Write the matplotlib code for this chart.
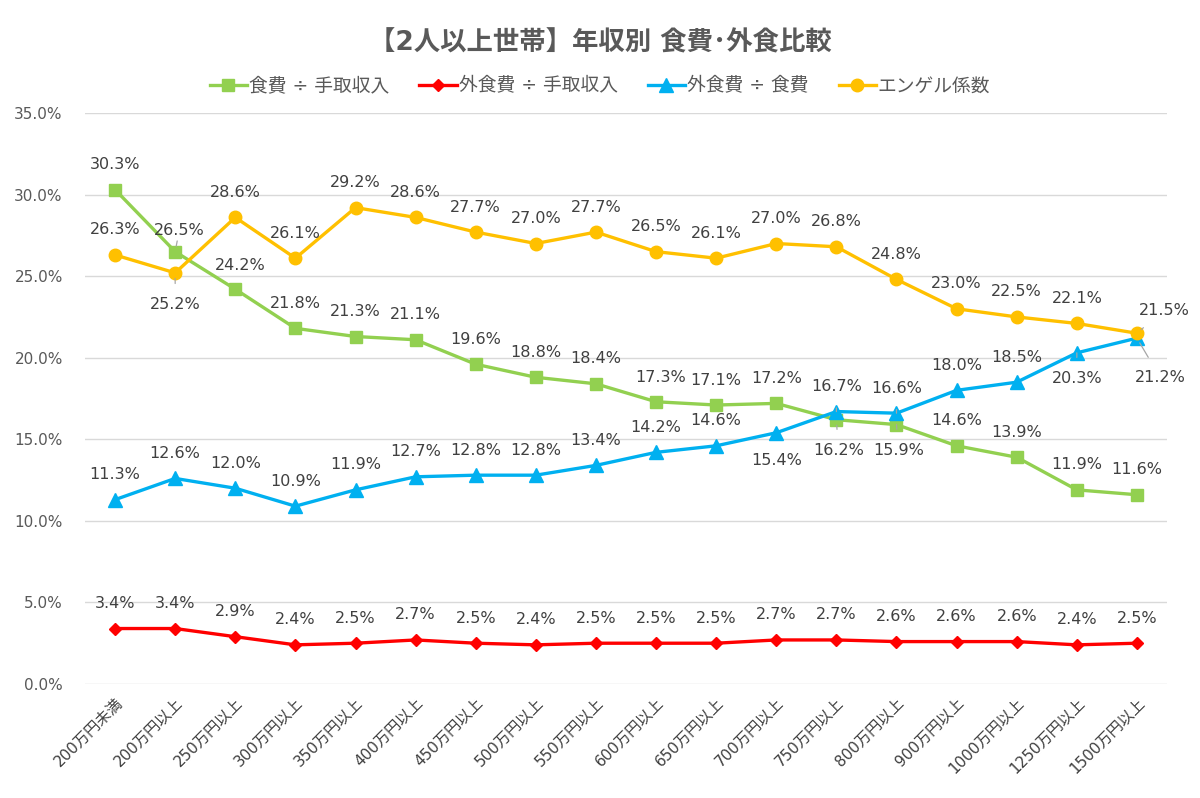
import matplotlib
matplotlib.use("Agg")
import matplotlib.pyplot as plt
import numpy as np

plt.rcParams['font.family'] = ['DejaVu Sans', 'Noto Sans CJK JP']

categories = ["200万円未満", "200万円以上", "250万円以上", "300万円以上", "350万円以上",
              "400万円以上", "450万円以上", "500万円以上", "550万円以上", "600万円以上",
              "650万円以上", "700万円以上", "750万円以上", "800万円以上", "900万円以上",
              "1000万円以上", "1250万円以上", "1500万円以上"]

food_income = [30.3, 26.5, 24.2, 21.8, 21.3, 21.1, 19.6, 18.8, 18.4, 17.3, 17.1, 17.2,
               16.2, 15.9, 14.6, 13.9, 11.9, 11.6]
eatout_income = [3.4, 3.4, 2.9, 2.4, 2.5, 2.7, 2.5, 2.4, 2.5, 2.5, 2.5, 2.7,
                 2.7, 2.6, 2.6, 2.6, 2.4, 2.5]
eatout_food = [11.3, 12.6, 12.0, 10.9, 11.9, 12.7, 12.8, 12.8, 13.4, 14.2, 14.6, 15.4,
               16.7, 16.6, 18.0, 18.5, 20.3, 21.2]
engel = [26.3, 25.2, 28.6, 26.1, 29.2, 28.6, 27.7, 27.0, 27.7, 26.5, 26.1, 27.0,
         26.8, 24.8, 23.0, 22.5, 22.1, 21.5]

series_names = ["食費 ÷ 手取収入", "外食費 ÷ 手取収入", "外食費 ÷ 食費", "エンゲル係数"]
yticks = [0, 5, 10, 15, 20, 25, 30, 35]

colors = ["#92D050", "#FF0000", "#00B0F0", "#FFC000"]
markers = ["s", "D", "^", "o"]
msizes = [8.5, 6.5, 10, 9]
text_color = "#595959"
label_color = "#404040"

fig = plt.figure(figsize=(12, 7.98), dpi=100)
ax = fig.add_axes([85/1200, 1-684/798, (1167-85)/1200, (684-113)/798])

x = np.arange(len(categories))
all_series = [food_income, eatout_income, eatout_food, engel]
lines = []
for vals, c, m, ms, name in zip(all_series, colors, markers, msizes, series_names):
    ln, = ax.plot(x, vals, color=c, marker=m, markersize=ms, linewidth=2.4,
                  label=name, zorder=3)
    lines.append(ln)

# label offsets in pixels (dx, dy); default above
default = (0, 25)
special = {
    (0, 1): ((4, 21), True),     # green 26.5 leader
    (3, 1): ((0, -32), True),    # orange 25.2 below
    (2, 11): ((0, -28), False),  # blue 15.4 below
    (2, 12): ((0, 25), True),    # blue 16.7
    (2, 13): ((0, 25), True),    # blue 16.6
    (0, 12): ((2, -31), True),   # green 16.2 below
    (0, 13): ((2, -26), True),   # green 15.9 below
    (2, 16): ((0, -26), True),   # blue 20.3 below
    (2, 17): ((23, -39), True),  # blue 21.2
    (3, 17): ((27, 23), True),   # orange 21.5
    (0, 2): ((5, 24), False),
    (0, 9): ((5, 24), False),
}

for si, vals in enumerate(all_series):
    for i, v in enumerate(vals):
        off, leader = special.get((si, i), (default, False))
        kw = {}
        if leader:
            kw['arrowprops'] = dict(arrowstyle='-', color='#A6A6A6', lw=0.9,
                                    shrinkA=8, shrinkB=4)
        ax.annotate(f"{v:.1f}%", (i, v), xytext=off, textcoords='offset pixels',
                    ha='center', va='center', fontsize=11.5, color=label_color,
                    zorder=5, **kw)

ax.set_xlim(-0.5, len(categories) - 0.5)
ax.set_ylim(0, 35)
ax.set_yticks(yticks)
ax.set_yticklabels([f"{t:.1f}%" for t in yticks], fontsize=11, color=text_color)
ax.set_xticks(x)
ax.set_xticklabels(categories, rotation=45, ha='right', rotation_mode='anchor',
                   fontsize=11, color=label_color)
ax.tick_params(axis='both', length=0)
ax.tick_params(axis='y', pad=16)
ax.tick_params(axis='x', pad=8)
ax.grid(axis='y', color='#D9D9D9', linewidth=1)
ax.set_axisbelow(True)
for s in ax.spines.values():
    s.set_visible(False)

fig.text(0.5, 1-43/798, "【2人以上世帯】年収別 食費･外食比較", ha='center', va='center',
         fontsize=19, fontweight='bold', color=text_color)
fig.legend(handles=lines, loc='center', bbox_to_anchor=(0.5, 1-86/798), ncol=4,
           frameon=False, fontsize=13.5, labelcolor=text_color, handlelength=2.0,
           handletextpad=0.1, columnspacing=1.6)

fig.savefig("out.png", dpi=100, facecolor='white')
